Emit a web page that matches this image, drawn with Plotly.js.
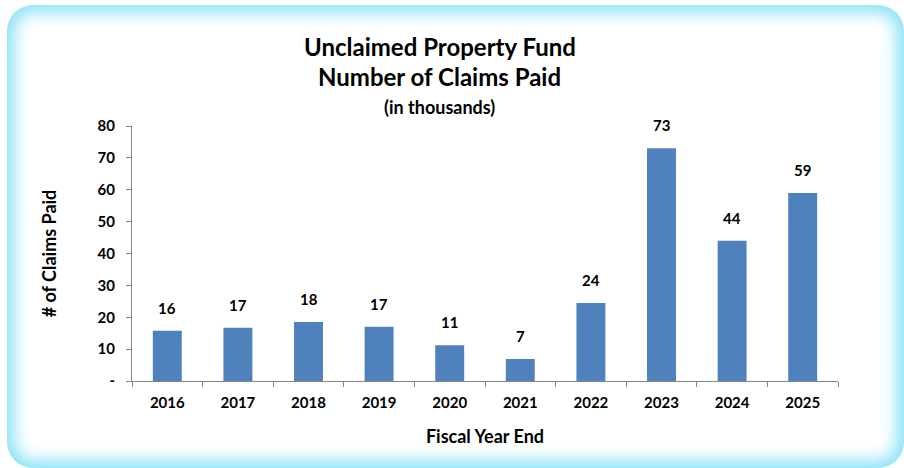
<!DOCTYPE html>
<html><head><meta charset="utf-8">
<script src="https://cdn.plot.ly/plotly-3.0.1.min.js"></script>
<style>
html,body{margin:0;padding:0;background:#fff;width:904px;height:468px;overflow:hidden}
#frame{position:absolute;left:7px;top:5px;width:897px;height:463px;border-radius:26px;
 box-shadow: inset 0 0 16px 8px #8fe3f7;background:#fff}
#chart{position:absolute;left:0;top:0;width:904px;height:468px}
</style></head>
<body>
<div id="frame"></div>
<div id="chart"></div>
<script>
const years = ['2016','2017','2018','2019','2020','2021','2022','2023','2024','2025'];
const claims = [15.8, 16.7, 18.5, 17.0, 11.2, 6.9, 24.5, 73.0, 44.0, 59.0];
const claimLabels = ['16','17','18','17','11','7','24','73','44','59'];
const yTickVals = [0,10,20,30,40,50,60,70,80];
const yTickText = ['-','10','20','30','40','50','60','70','80'];

const FONT = 'Lato, "Open Sans", sans-serif';
const trace = {
  type:'bar', x:years, y:claims,
  marker:{color:'#4f81bd'}, hoverinfo:'none'
};
const annotations = years.map((yr,i)=>({
  x:i, y:claims[i], xref:'x', yref:'y', text:claimLabels[i],
  showarrow:false, yanchor:'bottom', yshift:12,
  font:{family:FONT, size:15, color:'#000', weight:'bold'}
}));
annotations.push(
 {xref:'paper',yref:'paper',x:0.436,y:1.3137,text:'Unclaimed Property Fund',showarrow:false,yanchor:'middle',font:{family:FONT,size:24,color:'#000',weight:'bold'}},
 {xref:'paper',yref:'paper',x:0.436,y:1.196,text:'Number of Claims Paid',showarrow:false,yanchor:'middle',font:{family:FONT,size:24,color:'#000',weight:'bold'}},
 {xref:'paper',yref:'paper',x:0.436,y:1.0745,text:'(in thousands)',showarrow:false,yanchor:'middle',font:{family:FONT,size:18,color:'#000',weight:'bold'}}
);
const layout = {
  width:904, height:468,
  paper_bgcolor:'rgba(0,0,0,0)', plot_bgcolor:'rgba(0,0,0,0)',
  margin:{l:132, r:66, t:126, b:87},
  showlegend:false, bargap:0.59,
  font:{family:FONT, color:'#000'},
  xaxis:{type:'category', tickson:'boundaries', ticks:'outside', ticklen:5, tickcolor:'#868686',
    showline:true, linecolor:'#868686', linewidth:1, showgrid:false, zeroline:false,
    ticklabelstandoff:8,
    tickangle:0, tickfont:{family:FONT,size:15,color:'#000',weight:'bold'},
    title:{text:'Fiscal Year End', font:{family:FONT,size:18,color:'#000',weight:'bold'}, standoff:20}},
  yaxis:{range:[0,80], tickvals:yTickVals, ticktext:yTickText,
    ticks:'outside', ticklen:5, tickcolor:'#868686', showline:true, linecolor:'#868686',
    ticklabelstandoff:8,
    showgrid:false, zeroline:false, tickfont:{family:FONT,size:15,color:'#000',weight:'bold'},
    title:{text:'# of Claims Paid', font:{family:FONT,size:18,color:'#000',weight:'bold'}, standoff:36}},
  annotations:annotations
};
Plotly.newPlot('chart',[trace],layout,{displayModeBar:false, staticPlot:true});
</script>
</body></html>
